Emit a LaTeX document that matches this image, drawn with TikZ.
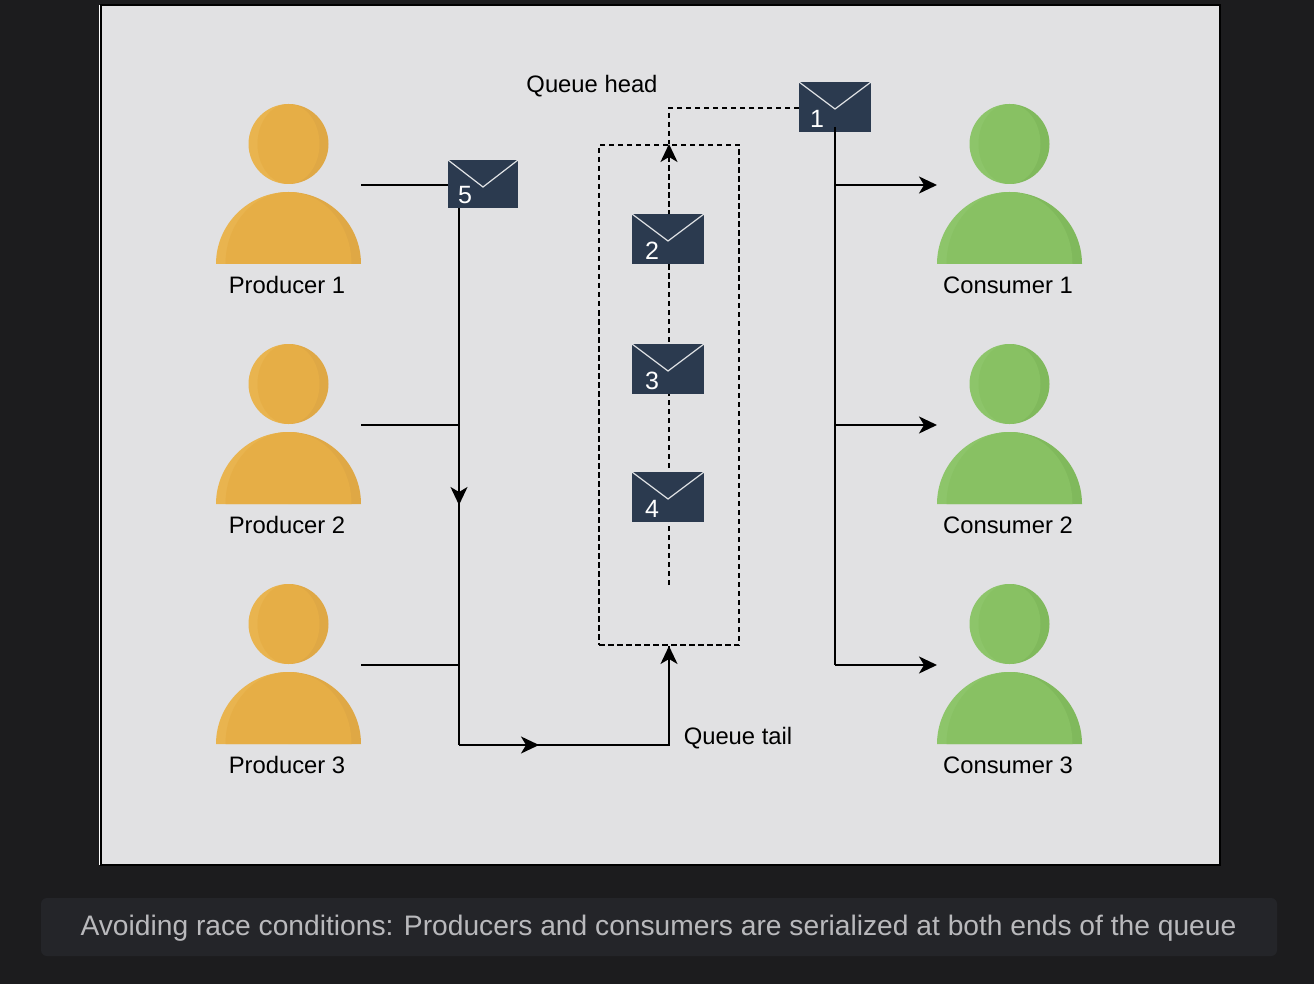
\documentclass[tikz,border=0pt]{standalone}
\usepackage{fontspec}
\setmainfont{Liberation Sans}
\usetikzlibrary{arrows.meta}
\definecolor{pagebg}{HTML}{1C1C1E}
\definecolor{panelbg}{HTML}{E1E1E3}
\definecolor{capbg}{HTML}{242529}
\definecolor{captext}{HTML}{B9B9BC}
\definecolor{envbg}{HTML}{2B3A4F}
\definecolor{envflap}{HTML}{E1E3E6}
\definecolor{prodmain}{HTML}{E6AE46}
\definecolor{prodlight}{HTML}{E9B44F}
\definecolor{proddark}{HTML}{DFA845}
\definecolor{consmain}{HTML}{88C163}
\definecolor{conslight}{HTML}{8DC56A}
\definecolor{consdark}{HTML}{80B95C}
\tikzset{
  flow/.style={line width=2pt},
  flowtip/.style={flow,-{Stealth[length=18pt,width=17pt,inset=5pt]}},
  dashflow/.style={flow,dash pattern=on 5.5pt off 3.5pt},
  envelope/.style={fill=envbg,inner sep=0pt,outer sep=0pt},
  envnum/.style={text=white,font=\fontsize{25}{28}\selectfont,inner sep=0pt},
  personbox/.style={minimum width=145pt,minimum height=162pt,inner sep=0pt,outer sep=0pt},
  personname/.style={font=\fontsize{23.8}{26}\selectfont,text=black,inner sep=0pt},
  boxlabel/.style={font=\fontsize{23.8}{26}\selectfont,text=black,inner sep=0pt}
}
\newcommand{\person}[5]{
  \node[personbox] (#1) at (#2,#3) {};
  \begin{scope}[shift={(#2,#3)}]
    \begin{scope}
      \clip (-100,-100) rectangle (0,100);
      \fill[#4light] (0,-41) circle (40pt);
      \fill[#4light] (-72.5,79) arc[start angle=180,end angle=0,x radius=72.5pt,y radius=72pt] -- cycle;
    \end{scope}
    \begin{scope}
      \clip (0,-100) rectangle (100,100);
      \fill[#4dark] (0,-41) circle (40pt);
      \fill[#4dark] (-72.5,79) arc[start angle=180,end angle=0,x radius=72.5pt,y radius=72pt] -- cycle;
    \end{scope}
    \fill[#4main] (0,-41) ellipse [x radius=31pt,y radius=40pt];
    \fill[#4main] (-63,79) arc[start angle=180,end angle=0,x radius=63pt,y radius=72pt] -- cycle;
  \end{scope}
  \node[personname] (#1name) at (#2-1.5,#3+100) {#5};
}
\newcommand{\envmsg}[7]{
  \node[envelope,minimum width=#4pt,minimum height=#5pt] (#1) at (#2,#3) {};
  \draw[envflap,line width=1.2pt] (#1.north west) -- ([yshift=-27pt]#1.north) -- (#1.north east);
  \node[envnum] (#1num) at ([xshift=#6pt,yshift=13pt]#1.south west) {#7};
}
\begin{document}
\begin{tikzpicture}[x=1pt,y=-1pt]
\useasboundingbox (0,0) rectangle (1314,984);
\fill[pagebg] (0,0) rectangle (1314,984);
\draw[white,line width=0.8pt] (99,5) -- (99,865);
\draw[black,line width=2pt,fill=panelbg] (100.5,5.5) rectangle (1220,865);
\fill[capbg,rounded corners=6pt] (41,898) rectangle (1277,956);
\node[text=captext,font=\fontsize{28.2}{30}\selectfont,inner sep=0pt] (caption) at (658.5,928) {Avoiding race conditions: Producers and consumers are serialized at both ends of the queue};

\foreach \n/\y in {1/185,2/425,3/665} {
  \person{prod\n}{288.5}{\y}{prod}{Producer \n}
  \person{cons\n}{1009.5}{\y}{cons}{Consumer \n}
}

\coordinate (busin) at (459,745);
\coordinate (busout) at (835,665);
\coordinate (tailend) at (669,585);
\node[draw,dashflow,minimum width=140pt,minimum height=500pt,inner sep=0pt] (queue) at (669,395) {};
\draw[dashflow,-{Stealth[length=18pt,width=17pt,inset=5pt]}] (tailend) -- (queue.north);
\draw[dashflow] (799,108) -- (669,108) -- (queue.north);

\envmsg{msg1}{835}{107}{72}{50}{18}{1}
\envmsg{msg2}{668}{239}{72}{50}{20}{2}
\envmsg{msg3}{668}{369}{72}{50}{20}{3}
\envmsg{msg4}{668}{497}{72}{50}{20}{4}
\envmsg{msg5}{483}{184}{70}{48}{17}{5}

\draw[flow] (prod1.east) -- (prod1.east -| msg5.west);
\draw[flow] (prod2.east) -- (prod2.east -| busin);
\draw[flow] (prod3.east) -- (prod3.east -| busin);
\draw[flowtip] (msg5.south -| busin) -- (459,505);
\draw[flow] (459,500) -- (busin);
\draw[flowtip] (busin) -- (539,745);
\draw[flow] (535,745) -- (669,745) -- (queue.south);
\draw[flowtip] (669,745) -- (queue.south);

\draw[flow] (835,127) -- (busout);
\draw[flowtip] (cons1.west -| busout) -- (cons1.west);
\draw[flowtip] (cons2.west -| busout) -- (cons2.west);
\draw[flowtip] (busout) -- (cons3.west);

\node[boxlabel] (headlabel) at (592,86.5) {Queue head};
\node[boxlabel] (taillabel) at (738,738.5) {Queue tail};
\end{tikzpicture}
\end{document}
